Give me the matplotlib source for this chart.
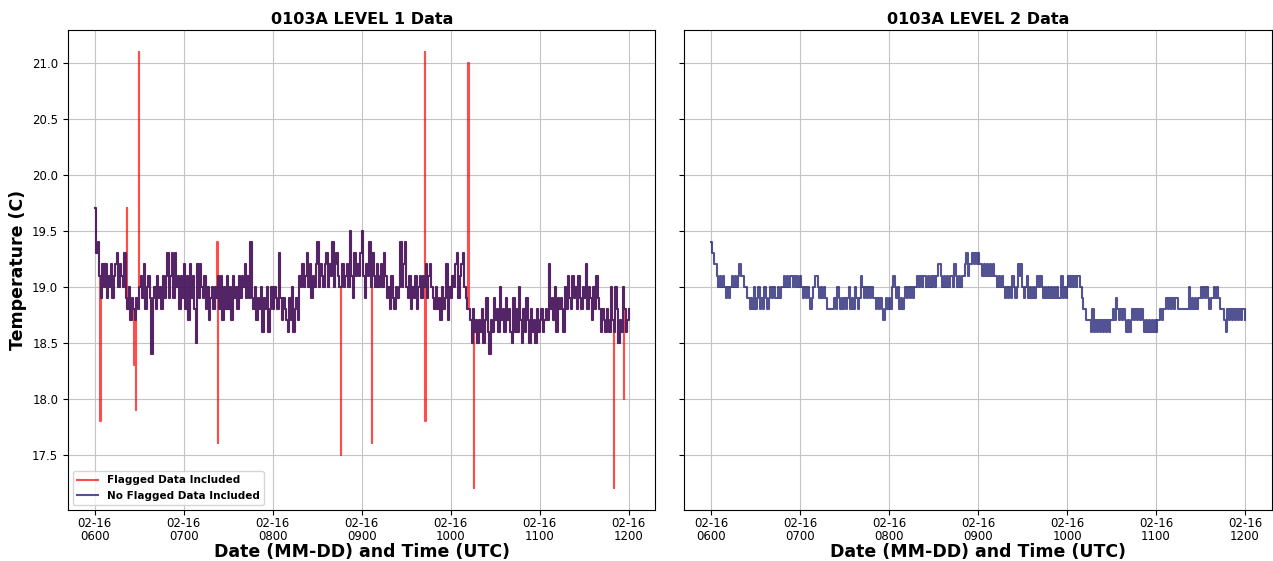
import numpy as np
import pandas as pd
import matplotlib
matplotlib.use('Agg')
import matplotlib.pyplot as plt
import matplotlib.dates as mdates

# start of the record, one reading per minute
start = pd.Timestamp('2023-02-16 06:00')

# level 1 temperature (C) with flagged points removed
level1 = [
    19.7, 19.3, 19.4, 19.1, 18.9, 19.2, 19.0, 19.2, 18.9, 19.1,
    19.0, 19.2, 18.9, 19.1, 19.2, 19.3, 19.0, 19.2, 19.1, 19.0,
    19.3, 18.9, 18.8, 19.0, 18.7, 18.9, 18.8, 18.7, 18.9, 18.8,
    19.0, 19.1, 18.9, 19.2, 18.8, 19.0, 19.1, 18.9, 18.4, 18.9,
    19.0, 18.8, 19.1, 18.9, 19.0, 18.8, 19.1, 18.9, 19.1, 19.3,
    18.9, 19.1, 19.3, 18.9, 19.3, 19.0, 19.1, 18.8, 19.1, 18.9,
    19.2, 18.8, 19.1, 18.7, 19.2, 18.9, 19.1, 18.8, 18.5, 19.2,
    18.9, 19.2, 19.0, 18.9, 19.1, 18.8, 19.0, 18.7, 18.9, 19.0,
    18.8, 19.0, 18.9, 19.1, 18.8, 19.1, 18.7, 19.0, 18.8, 19.1,
    18.8, 19.0, 18.7, 19.1, 18.9, 19.0, 18.8, 19.1, 18.9, 19.1,
    19.0, 19.2, 18.9, 19.1, 18.9, 19.4, 18.9, 18.8, 19.0, 18.7,
    18.9, 18.8, 19.0, 18.6, 18.9, 18.8, 19.0, 18.6, 18.8, 19.0,
    18.8, 19.0, 18.9, 18.8, 19.3, 18.9, 18.7, 18.9, 18.8, 18.7,
    18.6, 18.9, 18.7, 19.0, 18.6, 18.8, 18.9, 18.7, 19.1, 19.0,
    19.2, 19.0, 19.1, 19.3, 19.0, 19.2, 18.9, 19.1, 19.0, 19.2,
    19.4, 19.0, 19.2, 19.1, 19.0, 19.2, 19.3, 19.0, 19.2, 19.1,
    19.4, 19.0, 19.2, 19.3, 19.1, 19.0, 19.0, 19.2, 19.0, 19.1,
    19.2, 19.0, 19.5, 19.1, 18.9, 19.3, 19.1, 19.2, 19.1, 19.3,
    19.5, 19.1, 18.9, 19.2, 19.1, 19.4, 19.0, 19.3, 19.1, 19.0,
    19.2, 19.0, 19.1, 19.2, 19.0, 19.3, 19.1, 18.9, 19.0, 18.8,
    19.1, 18.9, 18.8, 19.0, 18.9, 19.0, 19.4, 19.0, 19.2, 19.4,
    19.0, 18.9, 19.1, 18.8, 19.0, 18.9, 19.1, 18.8, 19.0, 19.1,
    18.9, 19.1, 19.0, 19.2, 18.9, 19.1, 19.2, 19.0, 18.9, 18.8,
    19.0, 18.8, 18.9, 18.7, 19.0, 18.8, 18.9, 19.2, 18.7, 19.0,
    18.9, 19.1, 19.0, 19.2, 19.3, 18.9, 19.1, 19.2, 19.3, 19.0,
    18.9, 18.8, 18.8, 18.7, 18.5, 18.8, 18.6, 18.7, 18.5, 18.7,
    18.6, 18.8, 18.5, 18.7, 18.9, 18.6, 18.4, 18.7, 18.6, 18.9,
    18.7, 18.8, 18.6, 19.0, 18.7, 18.8, 18.6, 18.9, 18.7, 18.8,
    18.6, 18.5, 18.9, 18.6, 18.8, 18.6, 19.0, 18.7, 18.5, 18.8,
    18.6, 18.9, 18.7, 18.5, 18.8, 18.6, 18.7, 18.5, 18.8, 18.6,
    18.7, 18.8, 18.6, 18.7, 18.8, 18.7, 19.2, 18.8, 18.9, 18.7,
    19.0, 18.6, 18.9, 18.8, 18.9, 18.8, 18.6, 19.0, 18.8, 19.1,
    18.9, 18.8, 19.1, 18.9, 19.0, 18.8, 19.1, 18.9, 18.8, 19.0,
    18.9, 19.2, 18.8, 19.0, 18.9, 18.7, 19.0, 18.8, 19.1, 18.9,
    18.8, 18.6, 18.8, 18.7, 18.6, 18.8, 18.7, 18.6, 19.0, 18.7,
    18.6, 19.0, 18.8, 18.5, 18.7, 18.6, 19.0, 18.8, 18.6, 18.7, 18.8,
]

# flagged level 1 readings (minutes after 0600 and value)
flag_minutes = [3.8, 21.8, 26.8, 27.8, 29.8, 82.6, 82.8, 165.8, 186.8,
                222.6, 222.8, 251.8, 255.8, 349.8, 356.8]
flag_values = [17.8, 19.7, 18.3, 17.9, 21.1, 19.4, 17.6, 17.5, 17.6,
               21.1, 17.8, 21.0, 17.2, 17.2, 18.0]

# level 2 temperature (C)
level2 = [
    19.4, 19.3, 19.2, 19.2, 19.1, 19.0, 19.1, 19.0, 19.1, 19.0,
    18.9, 19.0, 18.9, 19.0, 19.1, 19.0, 19.1, 19.0, 19.1, 19.2,
    19.1, 19.1, 19.0, 19.0, 18.9, 18.9, 18.8, 18.9, 18.8, 19.0,
    18.8, 18.9, 19.0, 18.8, 18.9, 18.8, 19.0, 18.9, 18.8, 18.9,
    19.0, 18.9, 19.0, 18.9, 18.9, 19.0, 18.9, 19.0, 19.0, 19.1,
    19.0, 19.1, 19.0, 19.1, 19.1, 19.0, 19.1, 19.0, 19.1, 19.0,
    19.1, 19.0, 18.9, 19.0, 18.9, 19.0, 18.9, 18.8, 18.9, 19.0,
    19.1, 19.1, 19.0, 18.9, 19.0, 18.9, 19.0, 18.9, 18.8, 18.8,
    18.8, 18.8, 18.8, 18.9, 18.8, 19.0, 18.9, 18.8, 18.9, 18.8,
    18.9, 18.8, 18.9, 19.0, 18.8, 18.9, 18.8, 19.0, 18.9, 18.8,
    18.9, 19.1, 19.0, 18.9, 19.0, 18.9, 19.0, 18.9, 19.0, 18.9,
    18.9, 18.8, 18.9, 18.8, 18.9, 18.8, 18.7, 18.8, 18.9, 18.8,
    18.9, 18.8, 19.0, 19.1, 19.0, 18.9, 19.0, 18.8, 18.9, 18.8,
    18.9, 19.0, 18.9, 19.0, 18.9, 19.0, 18.9, 19.0, 19.0, 19.1,
    19.0, 19.1, 19.0, 19.1, 19.1, 19.0, 19.1, 19.0, 19.1, 19.0,
    19.1, 19.0, 19.1, 19.2, 19.2, 19.1, 19.0, 19.1, 19.0, 19.1,
    19.0, 19.1, 19.1, 19.0, 19.2, 19.1, 19.0, 19.1, 19.0, 19.1,
    19.1, 19.2, 19.3, 19.1, 19.2, 19.2, 19.3, 19.2, 19.3, 19.2,
    19.3, 19.2, 19.2, 19.1, 19.2, 19.1, 19.2, 19.1, 19.2, 19.1,
    19.2, 19.1, 19.1, 19.0, 19.1, 19.0, 19.1, 19.0, 18.9, 19.0,
    18.9, 19.0, 18.9, 19.1, 19.0, 18.9, 19.0, 19.2, 19.1, 19.2,
    19.0, 18.9, 19.0, 19.1, 18.9, 19.0, 18.9, 19.0, 18.9, 19.0,
    19.1, 19.0, 19.1, 19.0, 18.9, 19.0, 18.9, 19.0, 18.9, 19.0,
    18.9, 19.0, 18.9, 19.0, 18.9, 18.9, 19.1, 18.9, 19.0, 18.9,
    19.0, 19.1, 19.0, 19.1, 19.0, 19.1, 19.0, 19.1, 19.1, 19.0,
    18.9, 18.8, 18.8, 18.7, 18.7, 18.7, 18.6, 18.8, 18.6, 18.7,
    18.6, 18.7, 18.6, 18.7, 18.6, 18.7, 18.6, 18.7, 18.6, 18.7,
    18.7, 18.8, 18.7, 18.9, 18.8, 18.7, 18.8, 18.7, 18.8, 18.7,
    18.6, 18.7, 18.6, 18.7, 18.8, 18.7, 18.8, 18.7, 18.8, 18.7,
    18.8, 18.7, 18.6, 18.7, 18.6, 18.7, 18.6, 18.7, 18.6, 18.7,
    18.6, 18.7, 18.7, 18.8, 18.7, 18.8, 18.8, 18.9, 18.8, 18.9,
    18.8, 18.9, 18.8, 18.9, 18.9, 18.8, 18.8, 18.8, 18.8, 18.8,
    18.8, 18.8, 19.0, 18.8, 18.9, 18.8, 18.9, 18.8, 18.9, 18.9,
    19.0, 18.9, 19.0, 18.9, 19.0, 18.9, 18.8, 18.9, 18.9, 19.0,
    18.9, 19.0, 18.9, 18.8, 18.8, 18.8, 18.7, 18.6, 18.8, 18.7,
    18.8, 18.7, 18.8, 18.7, 18.8, 18.7, 18.8, 18.7, 18.8, 18.8, 18.7,
]

# time stamps
times = start + pd.to_timedelta(np.arange(len(level1)), unit='min')
times2 = start + pd.to_timedelta(np.arange(len(level2)), unit='min')
flag_times = start + pd.to_timedelta(flag_minutes, unit='min')

# series with the flagged points put back in
no_flag = pd.Series(level1, index=times)
with_flag = pd.concat([no_flag, pd.Series(flag_values, index=flag_times)]).sort_index()

fig, (ax1, ax2) = plt.subplots(1, 2, sharey=True, figsize=(12.73, 5.61), dpi=100)
fig.subplots_adjust(left=0.0534, right=0.999, top=0.9465, bottom=0.091, wspace=0.049)

ax1.plot(with_flag.index, with_flag.values, color='red', alpha=0.7, linewidth=1.5,
         drawstyle='steps-post', label='Flagged Data Included')
ax1.plot(no_flag.index, no_flag.values, color='midnightblue', alpha=0.75, linewidth=1.5,
         drawstyle='steps-post', label='No Flagged Data Included')
ax2.plot(times2, level2, color='midnightblue', alpha=0.75, linewidth=1.5, drawstyle='steps-post')

ax1.set_title('0103A LEVEL 1 Data', fontsize=11.5, fontweight='bold', pad=4)
ax2.set_title('0103A LEVEL 2 Data', fontsize=11.5, fontweight='bold', pad=4)
ax1.set_ylabel('Temperature (C)', fontsize=12.5, fontweight='bold')

for ax in (ax1, ax2):
    ax.set_xlabel('Date (MM-DD) and Time (UTC)', fontsize=12.5, fontweight='bold', labelpad=0)
    ax.xaxis.set_major_locator(mdates.HourLocator())
    ax.xaxis.set_major_formatter(mdates.DateFormatter('%m-%d\n%H%M'))
    ax.tick_params(labelsize=8.5)
    ax.tick_params(axis='x', pad=1.5)
    ax.grid(True, color='#c4c4c4', linewidth=0.8)

ax2.tick_params(labelleft=False)

ax1.legend(loc='lower left', prop={'weight': 'bold', 'size': 7.5})

# tighter two-line tick labels
fig.canvas.draw()
for ax in (ax1, ax2):
    for lab in ax.get_xticklabels():
        lab.set_linespacing(1.05)

plt.savefig('out.png', dpi=100)
